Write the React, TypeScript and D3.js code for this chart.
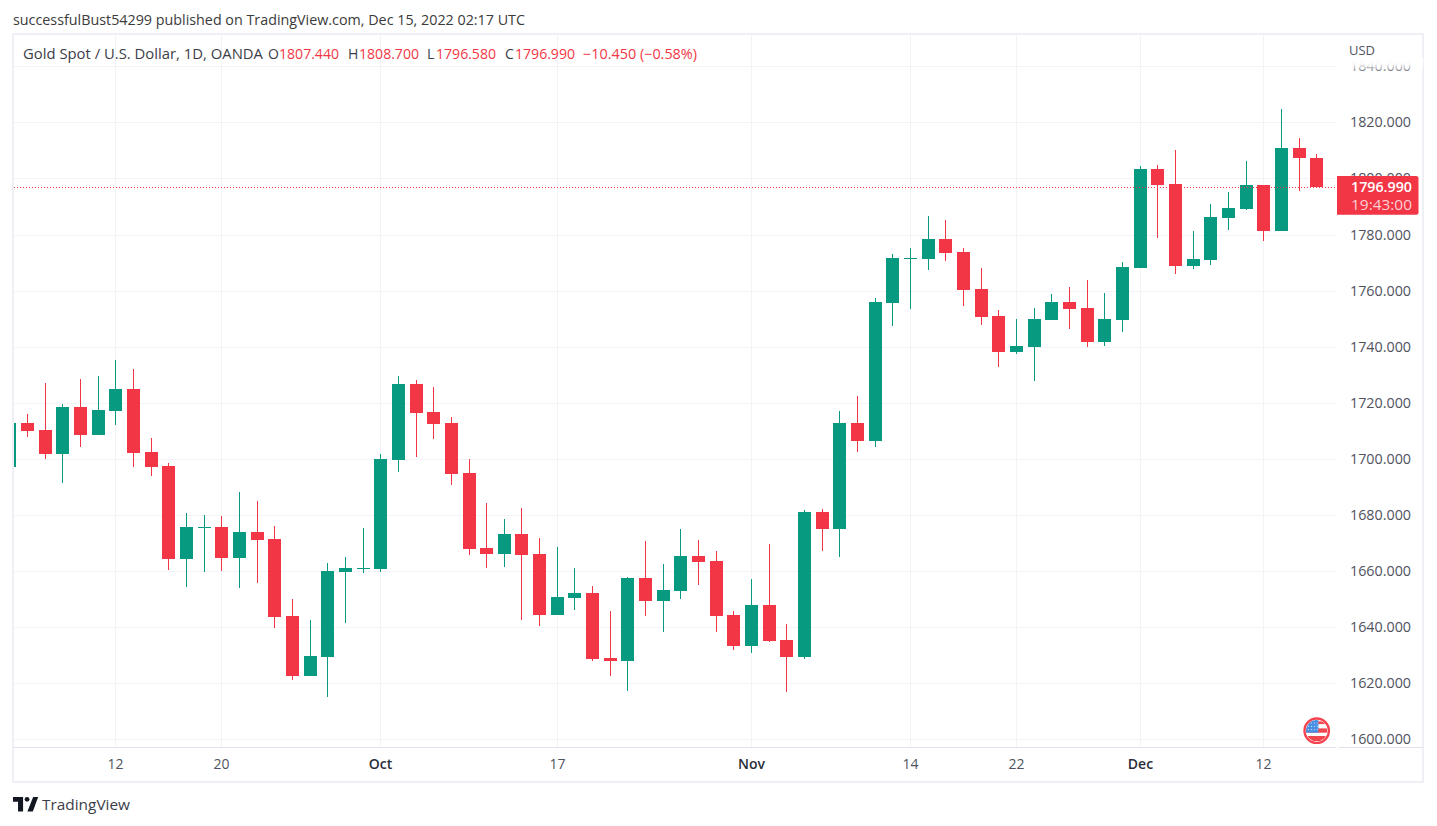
import React from "react";
import * as d3 from "d3";

const opens = [1697.1,1712.8,1710.3,1701.8,1718.5,1708.5,1717.1,1724.9,1702.5,1697.5,1664.3,1675.4,1675.7,1664.7,1674.0,1671.5,1644.0,1622.6,1629.4,1659.7,1660.8,1660.8,1699.6,1726.7,1716.7,1712.8,1695.0,1668.2,1666.1,1673.2,1666.1,1644.4,1650.4,1652.2,1629.0,1628.0,1657.6,1649.4,1652.9,1665.4,1663.6,1644.4,1633.3,1647.9,1635.4,1629.4,1681.1,1675.0,1712.8,1706.4,1755.6,1771.3,1771.3,1778.4,1773.8,1760.6,1751.0,1738.1,1739.9,1749.5,1755.9,1753.8,1741.7,1749.5,1768.1,1803.4,1798.0,1768.8,1770.9,1785.9,1789.1,1797.7,1781.3,1810.8,1807.44];
const highs = [1712.8,1716.0,1727.1,1719.6,1728.5,1729.6,1735.3,1732.1,1707.5,1698.6,1680.7,1680.0,1679.7,1688.2,1685.0,1676.1,1650.1,1642.6,1662.9,1665.0,1675.4,1701.8,1729.6,1728.1,1725.6,1714.9,1700.0,1684.3,1678.6,1682.5,1671.8,1668.6,1661.1,1654.7,1645.8,1657.9,1670.7,1662.5,1675.0,1671.1,1667.2,1645.8,1657.2,1669.7,1641.2,1681.8,1682.2,1717.1,1722.4,1757.4,1773.1,1775.2,1786.6,1785.2,1775.2,1768.1,1753.1,1749.9,1753.8,1758.8,1761.3,1763.8,1759.2,1770.2,1804.4,1804.8,1810.1,1781.3,1790.9,1795.2,1806.2,1797.7,1824.8,1814.4,1808.7];
const lows = [1697.1,1707.8,1700.0,1691.4,1704.3,1708.5,1712.1,1697.1,1693.9,1660.4,1654.3,1659.7,1660.0,1654.0,1655.8,1639.7,1621.2,1622.6,1615.1,1641.5,1659.3,1659.7,1695.3,1700.7,1707.1,1690.7,1665.8,1661.1,1661.5,1642.6,1640.4,1644.4,1646.1,1628.0,1622.6,1617.3,1644.0,1638.3,1650.1,1655.1,1638.3,1631.9,1630.8,1634.7,1616.9,1628.7,1667.2,1665.0,1702.5,1704.3,1747.4,1753.5,1767.4,1770.6,1754.5,1747.7,1732.8,1737.4,1727.8,1749.5,1746.3,1739.9,1740.3,1745.3,1768.1,1778.8,1765.9,1767.7,1769.1,1781.6,1788.8,1777.7,1781.3,1795.5,1796.58];
const closes = [1712.8,1710.0,1701.8,1718.5,1708.5,1717.4,1724.9,1702.1,1697.1,1664.3,1675.7,1675.7,1664.7,1674.0,1671.1,1643.6,1622.6,1629.7,1660.0,1661.1,1661.1,1700.0,1726.7,1716.4,1712.5,1694.6,1667.9,1666.1,1673.2,1665.8,1644.4,1650.8,1652.2,1628.7,1628.0,1657.6,1649.4,1653.3,1665.4,1663.3,1644.0,1633.3,1647.9,1635.1,1629.4,1681.1,1675.0,1712.8,1706.4,1755.9,1771.6,1771.6,1778.4,1773.4,1760.2,1750.6,1738.1,1740.3,1749.9,1755.9,1753.5,1741.7,1749.9,1768.4,1803.4,1797.7,1768.8,1771.3,1786.3,1789.5,1797.7,1781.3,1810.8,1807.3,1796.99];

const priceTicks = [1600,1620,1640,1660,1680,1700,1720,1740,1760,1780,1800,1820,1840];
const timeTickIndex = [6,12,21,31,42,51,57,64,71];
const timeTickLabels = ["12","20","Oct","17","Nov","14","22","Dec","12"];
const lastPrice = 1796.99;

const UP = "#089981";
const DOWN = "#f23645";
const GRID = "#f2f3f7";
const FRAME = "#eff0f6";
const AXIS = "#e0e3eb";
const TEXT = "#50535e";
const FONT = "'Open Sans', 'Noto Sans', sans-serif";

const paneL = 14, paneR = 1337, paneT = 35, paneB = 747;

export default function App() {
  const y = d3.scaleLinear().domain([1620, 1820]).range([683.33, 122.33]);
  const x = d3.scaleLinear().domain([0, 74]).range([9.85, 1316.69]);
  const yi = (v: number) => Math.round(y(v));
  const xi = (i: number) => Math.floor(x(i));

  return (
    <svg width={1437} height={826} viewBox="0 0 1437 826"
      style={{ position: "absolute", left: 0, top: 0, display: "block", background: "#fff" }}
      fontFamily={FONT}>
      <defs>
        <clipPath id="pane"><rect x={paneL} y={paneT} width={paneR - paneL} height={paneB - paneT} /></clipPath>
        <clipPath id="flag"><circle cx={1316.7} cy={730.7} r={10.6} /></clipPath>
        <linearGradient id="fade" x1="0" y1="0" x2="0" y2="1">
          <stop offset="0" stopColor="#fff" stopOpacity={1} />
          <stop offset="0.45" stopColor="#fff" stopOpacity={0.95} />
          <stop offset="1" stopColor="#fff" stopOpacity={0.25} />
        </linearGradient>
      </defs>

      <text x={13} y={24.5} fontSize={14} fill="#3b3b3b" textLength={512} lengthAdjust="spacingAndGlyphs">
        successfulBust54299 published on TradingView.com, Dec 15, 2022 02:17 UTC
      </text>

      {/* frame */}
      <rect x={13} y={34} width={1410} height={748} fill="none" stroke={FRAME} strokeWidth={2} />

      {/* grid */}
      <g clipPath="url(#pane)" shapeRendering="crispEdges">
        {priceTicks.map(t => (
          <rect key={t} x={paneL} y={yi(t)} width={paneR - paneL} height={1} fill={GRID} />
        ))}
        {timeTickIndex.map(i => (
          <rect key={i} x={xi(i)} y={paneT} width={1} height={paneB - paneT} fill={GRID} />
        ))}
      </g>

      {/* candles */}
      <g clipPath="url(#pane)" shapeRendering="crispEdges">
        {opens.map((o, i) => {
          const c = closes[i];
          const color = c >= o ? UP : DOWN;
          const top = yi(Math.max(o, c));
          const bot = Math.max(yi(Math.min(o, c)), top + 1);
          return (
            <g key={i} fill={color}>
              <rect x={xi(i)} y={yi(highs[i])} width={1} height={yi(lows[i]) - yi(highs[i])} />
              <rect x={xi(i) - 6} y={top} width={13} height={bot - top} />
            </g>
          );
        })}
      </g>

      {/* last price line */}
      <line x1={paneL} x2={paneR} y1={yi(lastPrice) + 0.5} y2={yi(lastPrice) + 0.5}
        stroke={DOWN} strokeWidth={1} strokeDasharray="1 2" shapeRendering="crispEdges" />

      {/* axes */}
      <rect x={paneL} y={747} width={paneR - paneL - 1} height={1} fill={AXIS} />
      <rect x={paneR + 1} y={747} width={1423 - paneR - 1} height={1} fill={AXIS} />

      {priceTicks.map(t => (
        <text key={t} x={1350} y={yi(t) + 5} fontSize={14} fill={TEXT} textLength={61} lengthAdjust="spacingAndGlyphs">
          {d3.format(".3f")(t)}
        </text>
      ))}
      <rect x={1337} y={58} width={86} height={13} fill="url(#fade)" />
      <text x={1349} y={55} fontSize={13.5} fill={TEXT} textLength={26} lengthAdjust="spacingAndGlyphs">USD</text>

      {timeTickIndex.map((i, k) => {
        const label = timeTickLabels[k];
        const bold = isNaN(+label);
        return (
          <text key={i} x={xi(i) + 0.5} y={769} fontSize={14} textAnchor="middle"
            fontWeight={bold ? 600 : 400} fill={bold ? "#2a2e39" : TEXT}>{label}</text>
        );
      })}

      {/* price label */}
      <path d="M1337 176H1416a2.5 2.5 0 0 1 2.5 2.5V212.2a2.5 2.5 0 0 1 -2.5 2.5H1337Z" fill={DOWN} />
      <text x={1351} y={191.5} fontSize={14} fontWeight={600} fill="#fff" textLength={61} lengthAdjust="spacingAndGlyphs">1796.990</text>
      <text x={1351} y={209.5} fontSize={14} fill="#fcd0d4" textLength={61} lengthAdjust="spacingAndGlyphs">19:43:00</text>

      {/* legend */}
      <g fontSize={14} fill="#3b3e48">
        <text x={23} y={59} textLength={240} lengthAdjust="spacingAndGlyphs">Gold Spot / U.S. Dollar, 1D, OANDA</text>
        <text x={268} y={59}>O</text>
        <text x={348} y={59}>H</text>
        <text x={427} y={59}>L</text>
        <text x={505} y={59}>C</text>
      </g>
      <g fontSize={14} fill={DOWN}>
        <text x={279} y={59} textLength={60} lengthAdjust="spacingAndGlyphs">1807.440</text>
        <text x={359} y={59} textLength={60} lengthAdjust="spacingAndGlyphs">1808.700</text>
        <text x={436} y={59} textLength={60} lengthAdjust="spacingAndGlyphs">1796.580</text>
        <text x={515} y={59} textLength={60} lengthAdjust="spacingAndGlyphs">1796.990</text>
        <text x={583} y={59} textLength={114} lengthAdjust="spacingAndGlyphs">−10.450 (−0.58%)</text>
      </g>

      {/* flag */}
      <g>
        <circle cx={1316.7} cy={730.7} r={12.2} fill="#fff" stroke="#f5434f" strokeWidth={2.4} />
        <g clipPath="url(#flag)">
          <rect x={1306} y={721.4} width={22} height={2.7} fill="#f0474f" />
          <rect x={1306} y={728.4} width={22} height={4.3} fill="#f0474f" />
          <rect x={1306} y={736} width={22} height={5} fill="#f0474f" />
          <rect x={1306} y={720} width={12.4} height={12.7} fill="#4a90e2" />
          {[0,1,2].map(r => [0,1,2,3].map(c => (
            <circle key={`${r}-${c}`} cx={1308.5 + c * 2.9} cy={723 + r * 3.3} r={0.6} fill="#cfe3fb" />
          )))}
        </g>
      </g>

      {/* logo */}
      <g transform="translate(13,797) scale(0.72)" fill="#131722">
        <path d="M14 0H0v6.5h7V20h7V0z" />
        <circle cx={19.5} cy={3.2} r={3.3} />
        <path d="M28 0h7l-7.5 20H20L28 0z" />
      </g>
      <text x={42} y={810} fontSize={15} fill="#3b3e48" textLength={88} lengthAdjust="spacingAndGlyphs">TradingView</text>
    </svg>
  );
}
